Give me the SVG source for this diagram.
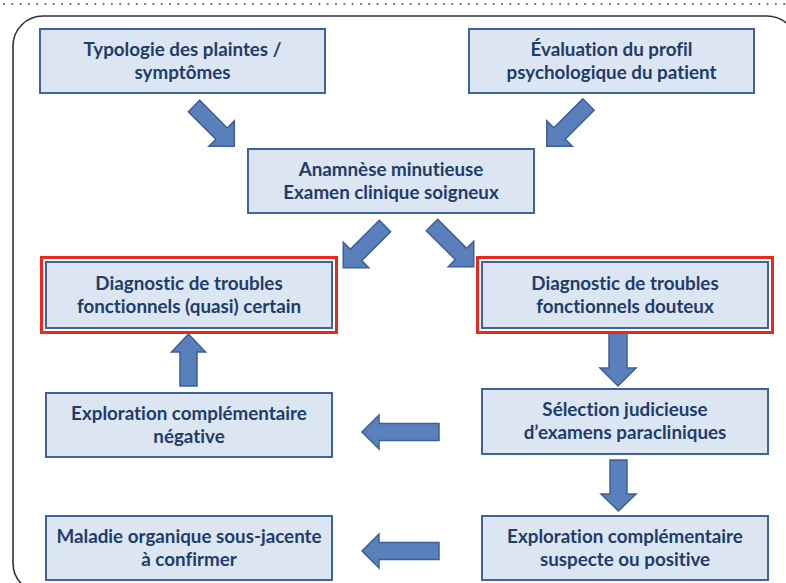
<svg xmlns="http://www.w3.org/2000/svg" width="786" height="583" viewBox="0 0 786 583">
<style>
.box{fill:#dce6f2;stroke:#41639b;stroke-width:2}
.hl{fill:none;stroke:#e8291c;stroke-width:3}
.t{font-family:Lato,"Liberation Sans",sans-serif;font-weight:700;font-size:18.8px;fill:#1f3c6a;text-anchor:middle;font-variant-ligatures:none}
.arr{fill:#5a80bc;stroke:#3d5f95;stroke-width:1.5;stroke-linejoin:miter}
</style>
<rect width="786" height="583" fill="#ffffff"/>
<line x1="4" y1="4" x2="786" y2="4" stroke="#666" stroke-width="2.2" stroke-dasharray="0 8.3" stroke-linecap="round"/>
<rect x="13" y="16" width="784" height="577" rx="30" ry="30" fill="none" stroke="#333" stroke-width="1.6"/>

<g id="connectors">
  <polygon class="arr" transform="translate(194,106) rotate(45)" points="0,-8 39,-8 39,-18 57,0 39,18 39,8 0,8"/>
  <polygon class="arr" transform="translate(588.5,104.5) rotate(135)" points="0,-8 41,-8 41,-18 59,0 41,18 41,8 0,8"/>
  <polygon class="arr" transform="translate(385,226) rotate(135)" points="0,-8 41,-8 41,-18 59,0 41,18 41,8 0,8"/>
  <polygon class="arr" transform="translate(432,225) rotate(45)" points="0,-8 41,-8 41,-18 59,0 41,18 41,8 0,8"/>
  <polygon class="arr" points="180,386 180,352 171.5,352 188.5,334 205.5,352 197,352 197,386"/>
  <polygon class="arr" points="609,333 609,368 600,368 618,386 636,368 627,368 627,333"/>
  <polygon class="arr" points="610,460 610,494 601,494 618.5,511 636,494 627,494 627,460"/>
  <polygon class="arr" points="439,423.5 379,423.5 379,415 362,432 379,449 379,440.5 439,440.5"/>
  <polygon class="arr" points="439,542.5 379,542.5 379,534 362,551 379,568 379,559.5 439,559.5"/>
</g>

<g id="n1">
  <rect class="box" x="40" y="29" width="285" height="64"/>
  <text class="t" x="182.5" y="56">Typologie des plaintes /</text>
  <text class="t" x="182.5" y="79">symptômes</text>
</g>
<g id="n2">
  <rect class="box" x="469" y="29" width="285" height="64"/>
  <text class="t" x="611.5" y="56">Évaluation du profil</text>
  <text class="t" x="611.5" y="79">psychologique du patient</text>
</g>
<g id="n3">
  <rect class="box" x="248" y="149" width="286" height="64"/>
  <text class="t" x="391" y="176">Anamnèse minutieuse</text>
  <text class="t" x="391" y="199">Examen clinique soigneux</text>
</g>
<g id="n4">
  <rect class="hl" x="41.5" y="257.5" width="295" height="75"/>
  <rect class="box" x="46" y="262" width="286" height="66"/>
  <text class="t" x="189" y="290">Diagnostic de troubles</text>
  <text class="t" x="189" y="313">fonctionnels (quasi) certain</text>
</g>
<g id="n5">
  <rect class="hl" x="477.5" y="257.5" width="295" height="75"/>
  <rect class="box" x="482" y="262" width="286" height="66"/>
  <text class="t" x="625" y="290">Diagnostic de troubles</text>
  <text class="t" x="625" y="313">fonctionnels douteux</text>
</g>
<g id="n6">
  <rect class="box" x="46" y="393" width="286" height="64"/>
  <text class="t" x="189" y="420">Exploration complémentaire</text>
  <text class="t" x="189" y="443">négative</text>
</g>
<g id="n7">
  <rect class="box" x="46" y="516" width="286" height="64"/>
  <text class="t" x="189" y="543">Maladie organique sous-jacente</text>
  <text class="t" x="189" y="566">à confirmer</text>
</g>
<g id="n8">
  <rect class="box" x="482" y="389" width="286" height="65"/>
  <text class="t" x="625" y="416">Sélection judicieuse</text>
  <text class="t" x="625" y="439">d’examens paracliniques</text>
</g>
<g id="n9">
  <rect class="box" x="482" y="516" width="286" height="64"/>
  <text class="t" x="625" y="543">Exploration complémentaire</text>
  <text class="t" x="625" y="566">suspecte ou positive</text>
</g>
</svg>
